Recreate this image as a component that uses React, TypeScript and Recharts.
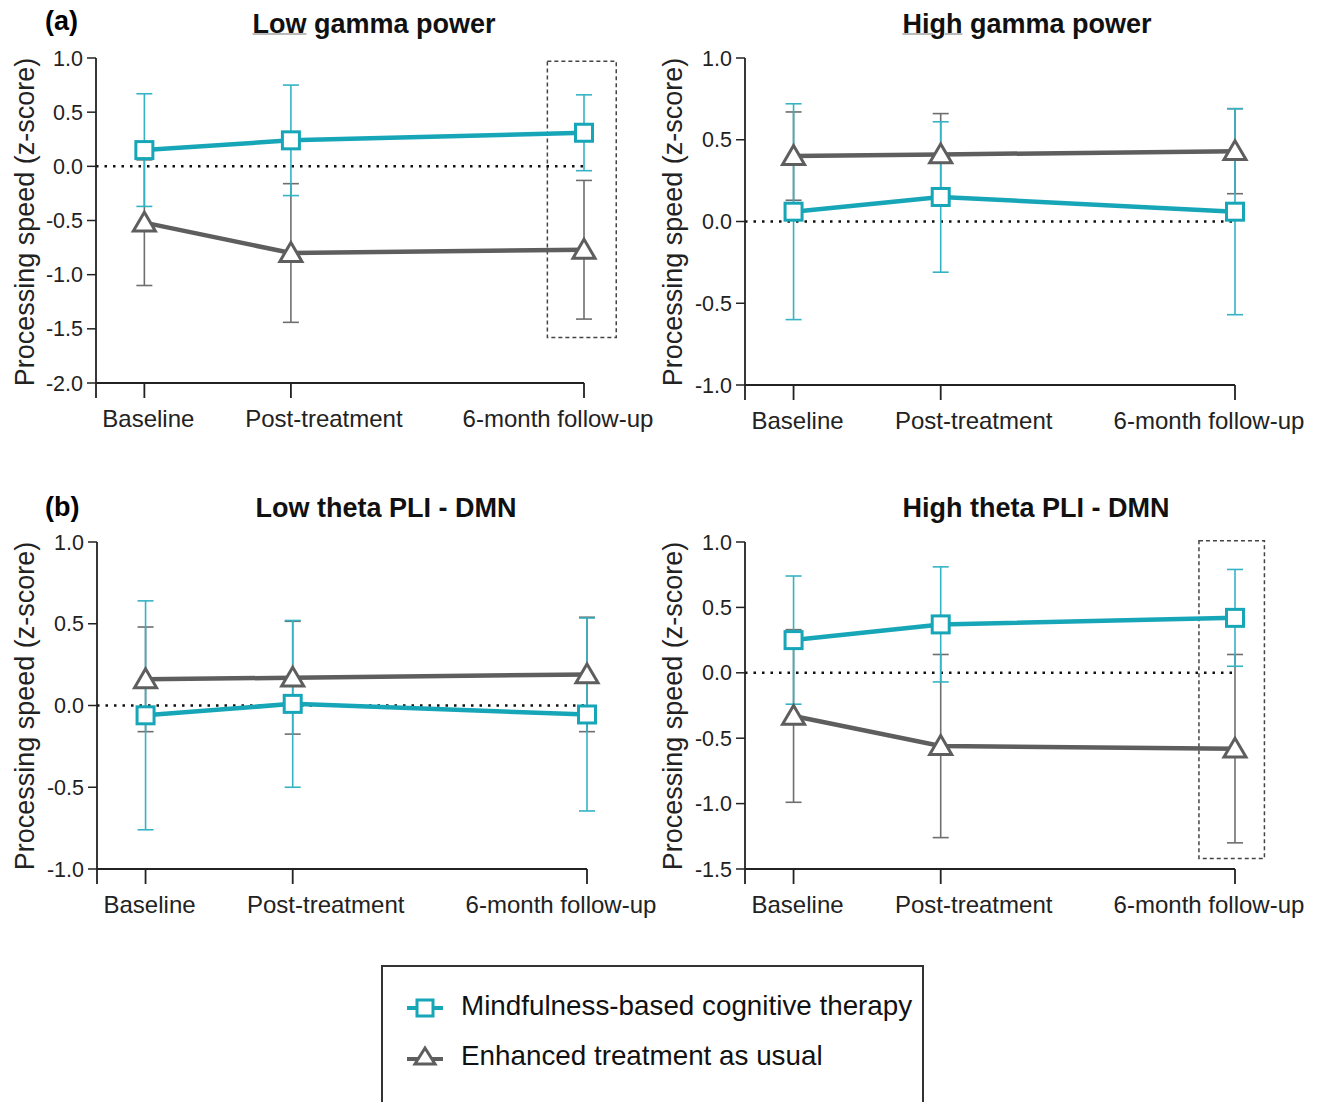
import {
  LineChart,
  Line,
  XAxis,
  YAxis,
  ErrorBar,
  ReferenceLine,
  ReferenceArea,
} from "recharts";

const categories = ["Baseline", "Post-treatment", "6-month follow-up"];
const timepoints = [0, 1, 3];

// panel (a) left: low gamma power
const lowGammaMbct = [0.15, 0.24, 0.31];
const lowGammaMbctErr = [0.52, 0.51, 0.35];
const lowGammaEtau = [-0.52, -0.8, -0.77];
const lowGammaEtauErr = [0.58, 0.64, 0.64];

// panel (a) right: high gamma power
const highGammaMbct = [0.06, 0.15, 0.06];
const highGammaMbctErr = [0.66, 0.46, 0.63];
const highGammaEtau = [0.4, 0.41, 0.43];
const highGammaEtauErr = [0.27, 0.25, 0.26];

// panel (b) left: low theta PLI - DMN
const lowThetaMbct = [-0.06, 0.01, -0.055];
const lowThetaMbctErr = [0.7, 0.51, 0.59];
const lowThetaEtau = [0.16, 0.17, 0.19];
const lowThetaEtauErr = [0.32, 0.345, 0.35];

// panel (b) right: high theta PLI - DMN
const highThetaMbct = [0.25, 0.37, 0.42];
const highThetaMbctErr = [0.49, 0.44, 0.37];
const highThetaEtau = [-0.33, -0.56, -0.58];
const highThetaEtauErr = [0.66, 0.7, 0.72];

const ticksWide = [-2, -1.5, -1, -0.5, 0, 0.5, 1];
const ticksNarrow = [-1, -0.5, 0, 0.5, 1];
const ticksMid = [-1.5, -1, -0.5, 0, 0.5, 1];

// dashed highlight boxes round the follow-up point
const lowGammaBox = { x: [2.75, 3.22], y: [-1.58, 0.97] };
const highThetaBox = { x: [2.755, 3.2], y: [-1.42, 1.01] };

const TEAL = "#17A6B8";
const TEAL_ERR = "#35B3C4";
const GREY = "#5E5E5E";
const GREY_ERR = "#6E6E6E";
const FONT = "'Liberation Sans', Arial, sans-serif";

const X_MIN = -0.33;
const labelShift = [4, 33, -26];

const buildRows = (m: number[], me: number[], e: number[], ee: number[]) =>
  timepoints.map((t, i) => ({
    t,
    mbct: m[i],
    mbctErr: me[i],
    etau: e[i],
    etauErr: ee[i],
  }));

const SquareDot = (props: any) => {
  const { cx, cy } = props;
  if (cx == null || cy == null) return null;
  return (
    <rect
      x={cx - 8.5}
      y={cy - 8.5}
      width={17}
      height={17}
      fill="#fff"
      stroke={TEAL}
      strokeWidth={3}
    />
  );
};

const TriangleDot = (props: any) => {
  const { cx, cy } = props;
  if (cx == null || cy == null) return null;
  const s = 10.5;
  return (
    <path
      d={`M${cx},${cy - s} L${cx + s * 1.05},${cy + s * 0.8} L${cx - s * 1.05},${cy + s * 0.8} Z`}
      fill="#fff"
      stroke={GREY}
      strokeWidth={3}
      strokeLinejoin="miter"
    />
  );
};

const XTick = (props: any) => {
  const { x, y, payload } = props;
  const i = timepoints.indexOf(payload.value);
  if (i < 0) return null;
  return (
    <text
      x={x + labelShift[i]}
      y={y + 27}
      textAnchor="middle"
      fontSize={24}
      fontFamily={FONT}
      fill="#222"
    >
      {categories[i]}
    </text>
  );
};

type PanelProps = {
  plotLeft: number;
  plotRight: number;
  plotTop: number;
  plotBottom: number;
  yDomain: [number, number];
  yTicks: number[];
  rows: any[];
  box?: { x: number[]; y: number[] };
};

const Y_AXIS_W = 96;
const X_AXIS_H = 60;

const Panel = ({
  plotLeft,
  plotRight,
  plotTop,
  plotBottom,
  yDomain,
  yTicks,
  rows,
  box,
}: PanelProps) => {
  const left = plotLeft - Y_AXIS_W;
  const top = plotTop - 20;
  const right = 90;
  const width = plotRight - left + right;
  const height = plotBottom - top + X_AXIS_H + 5;

  return (
    <div style={{ position: "absolute", left, top }}>
      <LineChart
        width={width}
        height={height}
        data={rows}
        margin={{ top: 20, right, bottom: 5, left: 0 }}
      >
        <XAxis
          dataKey="t"
          type="number"
          domain={[X_MIN, 3]}
          ticks={[X_MIN, ...timepoints]}
          height={X_AXIS_H}
          tickSize={15}
          tick={<XTick />}
          axisLine={{ stroke: "#222", strokeWidth: 1.8 }}
          tickLine={{ stroke: "#222", strokeWidth: 1.8 }}
          interval={0}
        />
        <YAxis
          type="number"
          domain={yDomain}
          ticks={yTicks}
          width={Y_AXIS_W}
          tickSize={9}
          tickMargin={4}
          tickFormatter={(v: number) => v.toFixed(1)}
          tick={{ fontSize: 21.5, fill: "#222", fontFamily: FONT }}
          axisLine={{ stroke: "#222", strokeWidth: 1.8 }}
          tickLine={{ stroke: "#222", strokeWidth: 1.5 }}
          interval={0}
        />
        <ReferenceLine
          y={0}
          stroke="#111"
          strokeWidth={2.5}
          strokeDasharray="2.5 6"
        />
        {box && (
          <ReferenceArea
            x1={box.x[0]}
            x2={box.x[1]}
            y1={box.y[0]}
            y2={box.y[1]}
            fill="none"
            stroke="#444"
            strokeWidth={1.5}
            strokeDasharray="4 3"
            ifOverflow="visible"
          />
        )}
        <Line
          dataKey="etau"
          stroke={GREY}
          strokeWidth={4.5}
          dot={<TriangleDot />}
          activeDot={false}
          isAnimationActive={false}
        >
          <ErrorBar
            dataKey="etauErr"
            direction="y"
            width={8}
            stroke={GREY_ERR}
            strokeWidth={1.6}
            isAnimationActive={false}
          />
        </Line>
        <Line
          dataKey="mbct"
          stroke={TEAL}
          strokeWidth={4.5}
          dot={<SquareDot />}
          activeDot={false}
          isAnimationActive={false}
        >
          <ErrorBar
            dataKey="mbctErr"
            direction="y"
            width={8}
            stroke={TEAL_ERR}
            strokeWidth={1.6}
            isAnimationActive={false}
          />
        </Line>
      </LineChart>
    </div>
  );
};

const Title = ({ x, y, children }: { x: number; y: number; children: any }) => (
  <div
    style={{
      position: "absolute",
      left: x,
      top: y,
      transform: "translate(-50%, -50%)",
      fontSize: 27,
      fontWeight: "bold",
      whiteSpace: "nowrap",
      color: "#111",
    }}
  >
    {children}
  </div>
);

const YLabel = ({ x, y }: { x: number; y: number }) => (
  <div
    style={{
      position: "absolute",
      left: x,
      top: y,
      transform: "translate(-50%, -50%) rotate(-90deg)",
      fontSize: 27,
      whiteSpace: "nowrap",
      color: "#222",
    }}
  >
    Processing speed (z-score)
  </div>
);

const ul = {
  textDecoration: "underline",
  textDecorationThickness: 1,
  textDecorationColor: "#777",
} as const;

const App = () => {
  return (
    <div
      style={{
        position: "relative",
        width: 1319,
        height: 1102,
        background: "#fff",
        fontFamily: FONT,
        overflow: "hidden",
      }}
    >
      <style>{"body{margin:0}"}</style>

      <div style={{ position: "absolute", left: 45, top: 6, fontSize: 27, fontWeight: "bold" }}>(a)</div>
      <div style={{ position: "absolute", left: 45, top: 492, fontSize: 27, fontWeight: "bold" }}>(b)</div>

      <Title x={374} y={24}>
        <span style={ul}>Low</span> gamma power
      </Title>
      <Title x={1027} y={24}>
        <span style={ul}>High</span> gamma power
      </Title>
      <Title x={386} y={508}>Low theta PLI - DMN</Title>
      <Title x={1036} y={508}>High theta PLI - DMN</Title>

      <YLabel x={25} y={222} />
      <YLabel x={673} y={222} />
      <YLabel x={25} y={706} />
      <YLabel x={673} y={706} />

      <Panel
        plotLeft={96}
        plotRight={584}
        plotTop={58}
        plotBottom={383}
        yDomain={[-2, 1]}
        yTicks={ticksWide}
        rows={buildRows(lowGammaMbct, lowGammaMbctErr, lowGammaEtau, lowGammaEtauErr)}
        box={lowGammaBox}
      />
      <Panel
        plotLeft={745}
        plotRight={1235}
        plotTop={58}
        plotBottom={385}
        yDomain={[-1, 1]}
        yTicks={ticksNarrow}
        rows={buildRows(highGammaMbct, highGammaMbctErr, highGammaEtau, highGammaEtauErr)}
      />
      <Panel
        plotLeft={97}
        plotRight={587}
        plotTop={542}
        plotBottom={869}
        yDomain={[-1, 1]}
        yTicks={ticksNarrow}
        rows={buildRows(lowThetaMbct, lowThetaMbctErr, lowThetaEtau, lowThetaEtauErr)}
      />
      <Panel
        plotLeft={745}
        plotRight={1235}
        plotTop={542}
        plotBottom={869}
        yDomain={[-1.5, 1]}
        yTicks={ticksMid}
        rows={buildRows(highThetaMbct, highThetaMbctErr, highThetaEtau, highThetaEtauErr)}
        box={highThetaBox}
      />

      {/* legend */}
      <div
        style={{
          position: "absolute",
          left: 381,
          top: 965,
          width: 539,
          height: 160,
          border: "2px solid #333",
        }}
      >
        <svg style={{ position: "absolute", left: 22, top: 29 }} width={40} height={24}>
          <line x1={2} y1={12} x2={38} y2={12} stroke={TEAL} strokeWidth={4} />
          <rect x={12} y={4} width={16} height={16} fill="#fff" stroke={TEAL} strokeWidth={3} />
        </svg>
        <div style={{ position: "absolute", left: 78, top: 23, fontSize: 27.8, color: "#111", whiteSpace: "nowrap" }}>
          Mindfulness-based cognitive therapy
        </div>
        <svg style={{ position: "absolute", left: 22, top: 78 }} width={40} height={24}>
          <line x1={2} y1={14} x2={38} y2={14} stroke={GREY} strokeWidth={4} />
          <path d="M20,3 L30,19 L10,19 Z" fill="#fff" stroke={GREY} strokeWidth={3} />
        </svg>
        <div style={{ position: "absolute", left: 78, top: 73, fontSize: 27.8, color: "#111", whiteSpace: "nowrap" }}>
          Enhanced treatment as usual
        </div>
      </div>
    </div>
  );
};

export default App;
